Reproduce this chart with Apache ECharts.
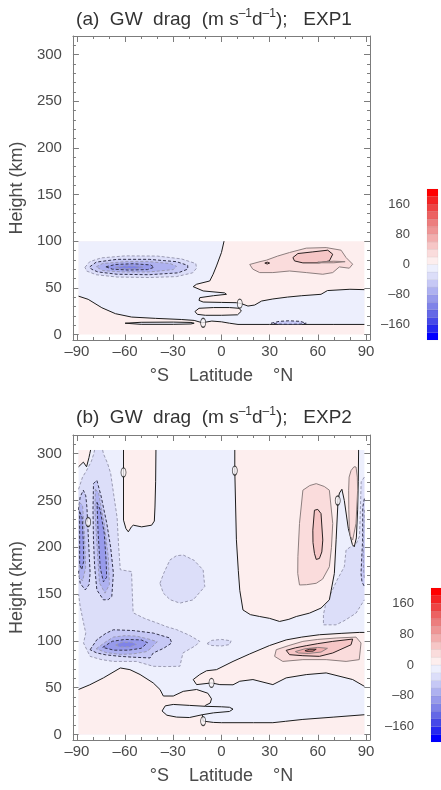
<!DOCTYPE html>
<html lang="en">
<head>
<meta charset="UTF-8">
<title>GW drag EXP1 / EXP2</title>
<script src="https://cdn.jsdelivr.net/npm/echarts@6/dist/echarts.min.js"></script>
<style>
  html, body { margin: 0; padding: 0; background: #fff; }
  #main { width: 441px; height: 790px; }
</style>
</head>
<body>
<div id="main"></div>
<script>
// ---- ticks and colour levels ----
var latTicks = [-90, -60, -30, 0, 30, 60, 90];
var latMinor = [-80, -70, -50, -40, -20, -10, 10, 20, 40, 50, 70, 80];
var hTicks = [0, 50, 100, 150, 200, 250, 300];
var hMinor = [10, 20, 30, 40, 60, 70, 80, 90, 110, 120, 130, 140, 160, 170, 180, 190, 210, 220, 230, 240, 260, 270, 280, 290, 310];
var cbTicks = [-160, -80, 0, 80, 160];
var cbLevels = [-200, -180, -160, -140, -120, -100, -80, -60, -40, -20, 0, 20, 40, 60, 80, 100, 120, 140, 160, 180];
var cbColors = ['#0000ff', '#2528f0', '#4649e8', '#6468e6', '#7f83e8', '#979aeb', '#aeb1f0', '#c6c8f5', '#dcdef9', '#edeffd',
                '#fdeeee', '#fadcdc', '#f6c6c6', '#f2aeae', '#ee9696', '#ec7e7e', '#ec6262', '#ee4444', '#f42424', '#ff0000'];

// ---- EXP1 contours  [lat, height km] ----
var a_domain = [[-89, 0], [89, 0], [89, 100], [-89, 100]];
var a_zero_main = [[-89, 100], [-89, 41], [-83, 37.6], [-74.5, 28.6], [-66, 22.2], [-56, 18.6], [-41, 17.2], [-25, 16], [-17, 15],
  [-12, 12.5], [-6, 14.3], [0, 13.5], [5, 12], [10.3, 10.7], [30, 10.7], [50, 10.7], [70, 10.7], [89, 10.7], [89, 48],
  [80, 48.4], [66, 47], [62, 43], [50, 41.5], [41, 40], [32, 38], [25, 35.8], [20.7, 31.5], [16.5, 30.4], [12.4, 33],
  [9.3, 34], [0, 34.3], [-11.4, 34.7], [-14, 36.5], [-13.5, 39.4], [-5, 41.5], [3.1, 43], [2, 44.5], [-11.4, 46.6],
  [-17.6, 51.2], [-15.5, 53.8], [-7.3, 57.3], [-5.2, 64.5], [-3.1, 73.4], [0, 87.8], [1.6, 100]];
var a_zero_loop = [[-16.5, 24.5], [-14, 28], [-5, 28.8], [5, 28.8], [11, 28], [12.4, 25], [10, 21], [0, 20.5], [-10, 20.5], [-15, 21.5]];
var a_zero_lens = [[-60, 12], [-50, 13], [-30, 13.2], [-19, 12.8], [-17, 12], [-19, 11.2], [-30, 10.8], [-50, 10.8]];
var a_neg20 = [[-85, 72], [-82, 78], [-75, 82], [-60, 84.2], [-40, 84], [-25, 81], [-16, 76], [-15.5, 71], [-18, 66], [-28, 62], [-45, 61], [-65, 61.5], [-78, 64], [-84, 68]];
var a_neg40 = [[-82, 72.5], [-78, 77.5], [-65, 80.5], [-45, 80.5], [-28, 78], [-21, 74], [-21, 70], [-27, 66], [-45, 64], [-65, 64.5], [-77, 67], [-81, 70]];
var a_neg60 = [[-78, 72.5], [-74, 76], [-60, 78], [-45, 78], [-32, 76], [-28, 73], [-30, 69.5], [-45, 67], [-62, 67], [-74, 68.5]];
var a_neg80 = [[-72, 72.5], [-66, 75], [-55, 75.8], [-44, 74.5], [-42, 72], [-46, 69.5], [-58, 69], [-68, 70]];
var a_neg100 = [[-66, 72], [-60, 73.5], [-52, 73.2], [-49, 72], [-54, 70.5], [-62, 70.8]];
var a_neg40_lens = [[31, 12], [36, 14], [42, 14.6], [49, 14], [52.8, 12], [49, 11], [42, 10.8], [36, 11]];
var a_pos20 = [[17.6, 75], [24, 78], [28, 79.6], [35, 84], [42.4, 87.8], [52.8, 92.5], [65.2, 93.1], [74.5, 90.3], [77.6, 82.4],
  [81.7, 75.3], [79.6, 71], [73.4, 72.4], [69.3, 66.3], [63.1, 64.5], [52.8, 66.3], [42.4, 68], [32, 66.3], [23.8, 66.3], [19.5, 70]];
var a_pos40 = [[44.5, 82.4], [47.6, 86.7], [56.9, 88.5], [66.2, 90.3], [69.3, 86], [67.2, 78.8], [61, 76.7], [50.7, 76.7], [45.5, 78.8]];
var a_pos40_dot = [[27, 76.5], [28.5, 77.5], [30, 76.5], [28.5, 75.5]];
var a_pos60 = [[60, 77.5], [70, 78.5], [77, 78], [70, 76.8], [62, 76.8]];
var a_labels = [[-11.4, 12.5], [11.4, 33]];

// ---- EXP2 contours ----
var b_domain = [[-89, 0], [89, 0], [89, 304], [-89, 304]];
var b_neg20_west = [[-89, 165], [-89, 262], [-86.5, 275], [-84, 282], [-81, 292], [-79.5, 300], [-79, 304], [-74, 304], [-73.5, 300],
  [-71, 290], [-69, 279], [-67, 255], [-65, 232], [-64, 200], [-63, 176], [-59.5, 175], [-56, 174], [-55.5, 150], [-55, 130],
  [-48, 124], [-40, 119], [-34, 115], [-28, 112], [-20, 106], [-13.5, 99.4], [-16, 95], [-20, 91], [-24, 87], [-25.9, 72.8],
  [-35, 72.5], [-42.5, 72.8], [-53, 78], [-60, 78], [-67.3, 78], [-75, 80], [-81.8, 83.4], [-85.9, 97.7], [-84.5, 108.3],
  [-86, 120], [-88, 137], [-89, 150]];
var b_neg20_mid = [[-38.3, 161.5], [-36, 172], [-32.1, 186.4], [-28, 191], [-23.8, 191.7], [-17, 186], [-11.4, 175.7], [-10.4, 158], [-17.6, 143.8], [-25.9, 140.3], [-32, 144], [-36.2, 151]];
var b_neg20_eq = [[-9, 97], [-6, 100.5], [0, 101.5], [6, 100], [5, 96], [0, 94.5], [-6, 95]];
var b_neg20_east = [[89, 275], [87, 270], [86.5, 240], [86, 212], [84, 204], [80, 200], [77.6, 197], [76.5, 179.2], [72, 165], [68.5, 152],
  [65, 140], [63.5, 128], [63.5, 117.1], [71.4, 117.1], [77, 122], [83.8, 129.6], [89, 143.8]];
var b_neg40_w1 = [[-88, 253.8], [-86, 261], [-84.5, 255], [-83.8, 243], [-82.8, 207.7], [-81.8, 172.2], [-82.5, 160], [-84.8, 154.4], [-88, 161.5], [-89, 175], [-89, 240]];
var b_neg40_w2 = [[-79.7, 268], [-77.6, 271.6], [-75, 255], [-71.4, 225.5], [-69, 200], [-67.3, 172.2], [-68.3, 147.3], [-70.5, 144], [-73.5, 143.8], [-77.6, 154.4], [-79, 180], [-79.7, 207.7], [-80, 240]];
var b_neg40_blob = [[-81.8, 90.5], [-77.6, 101.2], [-72, 108], [-67.3, 111.8], [-55, 111], [-42.5, 108.3], [-32.1, 103], [-31, 97.7], [-36, 92], [-42.5, 87], [-44.5, 81.7], [-55, 82.5], [-63.1, 83.4], [-72, 85], [-77.6, 87]];
var b_neg40_east = [[89, 252], [88, 243], [87.9, 207.7], [86.9, 172.2], [87.5, 163], [89, 158]];
var b_neg60_w1 = [[-88.5, 248], [-86.5, 245], [-85.2, 210], [-84.6, 178], [-86.5, 164], [-88.5, 168]];
var b_neg60_w2 = [[-78.5, 262], [-76.5, 258], [-73, 225], [-70.5, 190], [-69.8, 160], [-72.5, 151], [-76, 162], [-77.8, 210], [-78.8, 240]];
var b_neg60_blob = [[-78, 91.5], [-72, 99], [-67.3, 104], [-60, 105.5], [-52.8, 105], [-44.5, 101.5], [-40, 99], [-44, 92], [-46.6, 88.5], [-55, 86], [-63.1, 85.5], [-72, 87.5]];
var b_neg60_east = [[89, 240], [88.6, 220], [88.3, 190], [88.6, 172], [89, 166]];
var b_neg80_w1 = [[-88.3, 238], [-86.8, 232], [-86, 205], [-85.8, 185], [-87, 176], [-88.3, 182]];
var b_neg80_w2 = [[-77.5, 248], [-75.5, 240], [-73, 215], [-71.8, 185], [-71.5, 168], [-73.5, 163], [-75.5, 178], [-76.8, 215]];
var b_neg80_blob = [[-74, 93], [-68, 99.5], [-60, 101.5], [-50, 101], [-46, 98], [-50, 92], [-58, 90], [-67, 90]];
var b_neg100_blob = [[-66, 95.5], [-62, 98.5], [-56, 98.5], [-53, 96], [-57, 93.5], [-63, 93.5]];
var b_zero_south = [[-89, 0], [-89, 48], [-82, 53], [-73.5, 60.4], [-63, 71], [-57, 69.2], [-50.7, 64], [-42.5, 55], [-38.3, 48],
  [-36.2, 41], [-30, 41], [-23.8, 46], [-15.5, 48], [-8.5, 44], [-6.2, 38], [-7, 33.5], [-10, 31], [-12, 22], [-11.4, 14.2],
  [-5, 12.8], [0, 12.5], [20, 12.5], [32, 12.5], [40, 14], [50.7, 16], [70, 18.5], [89, 21], [89, 0]];
var b_zero_band = [[-17.6, 58.6], [-13.5, 64], [-9.3, 68], [-3.1, 69.2], [7.2, 78], [17.6, 86], [30, 95], [40.3, 101], [50, 104],
  [61, 106.5], [75, 108], [85.8, 109], [89, 109], [89, 51.4], [81.7, 58.6], [65.2, 65.7], [52.8, 63.9], [40.3, 60.4], [32, 53.2],
  [19.6, 58.6], [11.4, 56.8], [7.2, 53], [-1, 53.2], [-6.2, 55], [-15.5, 53.2]];
var b_zero_north = [[8.3, 304], [8.3, 282], [9.3, 208], [10.5, 175], [11.4, 154], [13.4, 133], [18, 128], [23.8, 126], [30, 124],
  [36.2, 120.7], [42, 123], [46.6, 126], [54.8, 129.6], [62, 135], [67.2, 143.8], [70.3, 172], [71.4, 208], [72.4, 243],
  [72.4, 250], [73.5, 258], [75, 262], [76.5, 250], [79, 220], [81.5, 203], [82.7, 200.5], [84, 210], [84.8, 240], [85.2, 270], [85.4, 304]];
var b_zero_nw = [[-61, 304], [-61, 229], [-59.5, 220], [-58, 216.5], [-56, 222], [-54.9, 223.6], [-49.7, 221.8], [-43.5, 223.6], [-41.8, 228], [-41.4, 243], [-41, 270], [-40.8, 304]];
var b_zero_corner = [[-89, 304], [-89, 286], [-86, 291], [-84, 286], [-82.5, 296], [-82, 300], [-81.5, 304]];
var b_zero_loop = [[-37, 25], [-35, 30.5], [-30, 32], [-20, 31], [-10, 30], [0, 29.5], [5, 29], [7.2, 27], [5, 24.5], [-5, 23], [-12, 21], [-20, 18], [-28, 18.5], [-34, 20.5]];
var b_pos20_blob = [[33.1, 83.4], [34.1, 90.5], [42, 95], [50.7, 99.4], [60, 101.5], [71.4, 103], [83.8, 104], [86.9, 97.7], [85.8, 79.9], [77.6, 78], [65.2, 79.9], [50.7, 79.9], [38.2, 78]];
var b_pos40_blob = [[40.3, 89.8], [46, 92.5], [52.8, 94.8], [60, 97], [69.3, 99.4], [81.7, 101.9], [80.7, 95.8], [69.3, 87], [61, 83.4], [50.7, 84.1], [42.4, 85.2]];
var b_pos60_blob = [[46, 88.5], [52, 91.5], [60, 93], [66, 92], [62, 88], [54, 86.5], [48, 87]];
var b_pos80_blob = [[52, 89.5], [55, 91], [59, 91], [57, 89], [53, 88.8]];
var b_pos20_north = [[47.6, 190], [48.6, 225.5], [50.7, 261], [55, 266], [59, 268], [64, 265], [67.2, 261], [69.3, 225.5], [68.5, 200], [67.2, 179.2], [63, 166], [59, 161.5], [53, 160], [48.6, 159.7], [47.5, 172]];
var b_pos40_north = [[56.9, 218.3], [57.9, 239.6], [60, 240.5], [62, 236], [63.1, 207.7], [62.5, 195], [61, 188], [59, 187], [57.9, 193.5], [57, 205]];
var b_pos20_lobe = [[79.2, 261], [79.5, 275], [80.7, 282], [82.5, 286], [83.8, 285.8], [84.6, 275], [84.8, 261], [83.8, 225.5], [81.7, 207.7], [80.2, 212], [79.6, 221.8], [79.3, 240]];
var b_labels = [[-61, 280], [8.3, 282], [72.4, 250], [-6.2, 55], [-11.4, 14.2], [-83, 227]];

// [path, contour level, side: -1 inside below level, +1 inside above]
var expA = [[a_domain, 0, 1], [a_zero_main, 0, -1], [a_zero_loop, 0, 1], [a_zero_lens, 0, -1],
  [a_neg20, -20, -1], [a_neg40, -40, -1], [a_neg60, -60, -1], [a_neg80, -80, -1], [a_neg100, -100, -1], [a_neg40_lens, -40, -1],
  [a_pos20, 20, 1], [a_pos40, 40, 1], [a_pos40_dot, 40, 1], [a_pos60, 60, 1]];
var expB = [[b_domain, 0, -1],
  [b_neg20_west, -20, -1], [b_neg20_mid, -20, -1], [b_neg20_eq, -20, -1], [b_neg20_east, -20, -1],
  [b_neg40_w1, -40, -1], [b_neg40_w2, -40, -1], [b_neg40_blob, -40, -1], [b_neg40_east, -40, -1],
  [b_neg60_w1, -60, -1], [b_neg60_w2, -60, -1], [b_neg60_blob, -60, -1], [b_neg60_east, -60, -1],
  [b_neg80_w1, -80, -1], [b_neg80_w2, -80, -1], [b_neg80_blob, -80, -1], [b_neg100_blob, -100, -1],
  [b_zero_south, 0, 1], [b_zero_band, 0, 1], [b_zero_north, 0, 1], [b_zero_nw, 0, 1], [b_zero_corner, 0, 1], [b_zero_loop, 0, -1],
  [b_pos20_blob, 20, 1], [b_pos20_north, 20, 1], [b_pos20_lobe, 20, 1], [b_pos40_blob, 40, 1], [b_pos40_north, 40, 1],
  [b_pos60_blob, 60, 1], [b_pos80_blob, 80, 1]];

var FONT = 'Liberation Sans';
var frameCol = '#7c7c7c';
var labCol = '#4a4a4a';
var ovalPath = 'path://M5,0 C7.8,0 10,4 10,9 C10,14 7.8,18 5,18 C2.2,18 0,14 0,9 C0,4 2.2,0 5,0 Z';

function fmt(v) { return v < 0 ? '\u2013' + (-v) : String(v); }

function fillFor(lev, sgn) {
  var lo = sgn < 0 ? lev - 20 : lev;
  return cbColors[(lo + 200) / 20];
}
function lineFor(lev) {
  if (lev === 0) return { stroke: '#1c1c1c', lineWidth: 1 };
  if (lev < 0) return { stroke: lev % 40 === 0 ? '#33334a' : '#9a9ab2', lineWidth: 1, lineDash: [3, 2] };
  return { stroke: lev % 40 === 0 ? '#2a2020' : '#8c7e7e', lineWidth: 1 };
}

// split the outline into runs, leaving out pieces that lie on the data box
function runs(pts, onEdge) {
  var n = pts.length, ok = [];
  for (var i = 0; i < n; i++) ok.push(!onEdge(pts[i], pts[(i + 1) % n]));
  if (ok.every(Boolean)) return [{ closed: true, pts: pts }];
  var s = ok.indexOf(false), out = [], cur = null;
  for (var k = 1; k <= n; k++) {
    var j = (s + k) % n;
    if (ok[j]) { if (!cur) cur = [pts[j]]; cur.push(pts[(j + 1) % n]); }
    else if (cur) { out.push({ closed: false, pts: cur }); cur = null; }
  }
  if (cur) out.push({ closed: false, pts: cur });
  return out;
}

function contourSeries(ax, regions, top) {
  function onEdge(p, q) {
    return (p[0] === q[0] && Math.abs(p[0]) === 89) || (p[1] === q[1] && (p[1] === 0 || p[1] === top));
  }
  return {
    type: 'custom', xAxisIndex: ax, yAxisIndex: ax, silent: true, animation: false, clip: true, z: 2,
    data: regions.map(function (r, i) { return [i, 0]; }),
    renderItem: function (params, api) {
      var idx = params.dataIndex, r = regions[idx];
      var toPx = function (p) { return api.coord(p); };
      var kids = [{ type: 'polygon', z2: idx * 2, shape: { points: r[0].map(toPx) }, style: { fill: fillFor(r[1], r[2]) } }];
      var ls = lineFor(r[1]);
      runs(r[0], onEdge).forEach(function (run) {
        kids.push({ type: run.closed ? 'polygon' : 'polyline', z2: idx * 2 + 1, shape: { points: run.pts.map(toPx) },
          style: { fill: 'none', stroke: ls.stroke, lineWidth: ls.lineWidth, lineDash: ls.lineDash || null } });
      });
      return { type: 'group', children: kids };
    }
  };
}

function labelSeries(ax, pts) {
  return { type: 'scatter', xAxisIndex: ax, yAxisIndex: ax, data: pts, symbol: ovalPath, symbolSize: [5, 9],
    itemStyle: { color: '#f8f4f6', borderColor: '#1c1c1c', borderWidth: 1 }, silent: true, animation: false, z: 4 };
}

function cbarSeries(ax) {
  return {
    type: 'custom', xAxisIndex: ax, yAxisIndex: ax, silent: true, animation: false, z: 2,
    data: cbLevels.map(function (v) { return [0, v]; }),
    renderItem: function (params, api) {
      var lo = cbLevels[params.dataIndex];
      var p0 = api.coord([0, lo]), p1 = api.coord([1, lo + 20]);
      return { type: 'rect', shape: { x: p0[0], y: p1[1], width: p1[0] - p0[0], height: p0[1] - p1[1] },
        style: { fill: cbColors[params.dataIndex], stroke: 'rgba(0,0,0,0.07)', lineWidth: 0.6 } };
    }
  };
}

function xAxes(g) {
  var base = { gridIndex: g, type: 'value', min: -92.5, max: 92.5, splitLine: { show: false } };
  var line = { show: true, onZero: false, lineStyle: { color: frameCol, width: 1 } };
  return [
    Object.assign({}, base, { position: 'bottom', axisLine: line,
      axisTick: { show: true, inside: true, length: 6, customValues: latTicks, lineStyle: { color: frameCol } },
      axisLabel: { show: true, customValues: latTicks, formatter: fmt, margin: 4, fontSize: 15, fontFamily: FONT, color: labCol },
      name: '\u00b0S    Latitude    \u00b0N', nameLocation: 'middle', nameGap: 27,
      nameTextStyle: { fontSize: 18, fontFamily: FONT, color: labCol } }),
    Object.assign({}, base, { position: 'top', axisLine: line,
      axisTick: { show: true, inside: true, length: 6, customValues: latTicks, lineStyle: { color: frameCol } },
      axisLabel: { show: false } }),
    Object.assign({}, base, { position: 'bottom', axisLine: { show: false, onZero: false },
      axisTick: { show: true, inside: true, length: 3, customValues: latMinor, lineStyle: { color: frameCol } },
      axisLabel: { show: false } }),
    Object.assign({}, base, { position: 'top', axisLine: { show: false, onZero: false },
      axisTick: { show: true, inside: true, length: 3, customValues: latMinor, lineStyle: { color: frameCol } },
      axisLabel: { show: false } })
  ];
}

function yAxes(g) {
  var base = { gridIndex: g, type: 'value', min: -6, max: 320, splitLine: { show: false } };
  var line = { show: true, onZero: false, lineStyle: { color: frameCol, width: 1 } };
  return [
    Object.assign({}, base, { position: 'left', axisLine: line,
      axisTick: { show: true, inside: true, length: 6, customValues: hTicks, lineStyle: { color: frameCol } },
      axisLabel: { show: true, customValues: hTicks, margin: 11, fontSize: 15, fontFamily: FONT, color: labCol },
      name: 'Height (km)', nameLocation: 'middle', nameRotate: 90, nameGap: 42,
      nameTextStyle: { fontSize: 18, fontFamily: FONT, color: labCol } }),
    Object.assign({}, base, { position: 'right', axisLine: line,
      axisTick: { show: true, inside: true, length: 6, customValues: hTicks, lineStyle: { color: frameCol } },
      axisLabel: { show: false } }),
    Object.assign({}, base, { position: 'left', axisLine: { show: false, onZero: false },
      axisTick: { show: true, inside: true, length: 3, customValues: hMinor, lineStyle: { color: frameCol } },
      axisLabel: { show: false } }),
    Object.assign({}, base, { position: 'right', axisLine: { show: false, onZero: false },
      axisTick: { show: true, inside: true, length: 3, customValues: hMinor, lineStyle: { color: frameCol } },
      axisLabel: { show: false } })
  ];
}

function cbX(g) { return { gridIndex: g, type: 'value', min: 0, max: 1, show: false }; }
function cbY(g) {
  return { gridIndex: g, type: 'value', min: -200, max: 200, position: 'left', splitLine: { show: false },
    axisLine: { show: false }, axisTick: { show: false },
    axisLabel: { show: true, customValues: cbTicks, formatter: fmt, margin: 17, fontSize: 13, fontFamily: FONT, color: labCol } };
}

function titleText(tag, exp, y) {
  return { type: 'text', x: 214, y: y, silent: true,
    style: { text: '{t|' + tag + '  GW  drag  (m s}{s|\u20131}{t|d}{s|\u20131}{t|);   ' + exp + '}',
      align: 'center', textAlign: 'center', verticalAlign: 'middle', textVerticalAlign: 'middle',
      rich: { t: { fontSize: 19, fontFamily: FONT, fill: '#333', color: '#333', lineHeight: 25 },
              s: { fontSize: 12, fontFamily: FONT, fill: '#333', color: '#333', lineHeight: 14, verticalAlign: 'top' } } } };
}

var chart = echarts.init(document.getElementById('main'), null, { renderer: 'canvas' });
chart.setOption({
  backgroundColor: '#ffffff',
  animation: false,
  grid: [
    { left: 72.7, top: 36, width: 297.3, height: 304 },
    { left: 72.7, top: 435, width: 297.3, height: 305 },
    { left: 427, top: 189, width: 11, height: 151 },
    { left: 431, top: 588, width: 11, height: 154 }
  ],
  xAxis: xAxes(0).concat(xAxes(1)).concat([cbX(2), cbX(3)]),
  yAxis: yAxes(0).concat(yAxes(1)).concat([cbY(2), cbY(3)]),
  graphic: [titleText('(a)', 'EXP1', 20), titleText('(b)', 'EXP2', 418)],
  series: [
    contourSeries(0, expA, 100),
    labelSeries(0, a_labels),
    contourSeries(4, expB, 304),
    labelSeries(4, b_labels),
    cbarSeries(8),
    cbarSeries(9)
  ]
});
</script>
</body>
</html>
